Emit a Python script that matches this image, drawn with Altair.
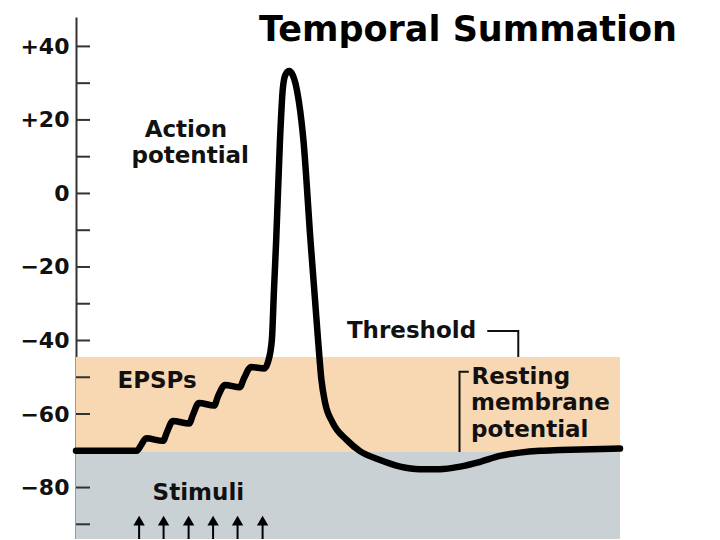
import altair as alt
import pandas as pd

# ---- data ----
# membrane potential trace: time (arbitrary units, 0-100) and voltage (mV)
trace_t = [0, 11.2, 11.9, 12.9, 16.0, 16.7, 17.8, 20.8, 21.5, 22.6, 25.4, 26.1, 27.4,
           30.1, 30.9, 32.2, 34.6, 35.3, 36.0, 36.4, 36.8, 37.5, 38.0, 38.5, 39.2,
           39.8, 40.6, 41.8, 43.1, 44.5, 45.1, 45.8, 47.2, 49.8, 52.2, 55.9, 59.6,
           63.2, 66.9, 70.6, 74.3, 77.9, 81.6, 85.3, 89.0, 100]
trace_v = [-70, -70, -68.6, -66.6, -67.3, -65.0, -61.9, -62.6, -60.2, -57.0, -57.7, -55.2, -52.1,
           -52.7, -50.2, -47.2, -47.6, -45.8, -39.9, -26.0, -12.7, 14.6, 28.2, 32.3, 33.3,
           32.3, 28.2, 14.6, -12.7, -39.9, -50.5, -57.0, -62.4, -67.1, -70.1, -72.5, -74.3,
           -75.0, -75.0, -74.3, -73.0, -71.4, -70.5, -70.0, -69.8, -69.4]

y_ticks_major = [-80, -60, -40, -20, 0, 20, 40]
y_ticks_minor = [-90, -70, -50, -30, -10, 10, 30]

threshold_mv = -44.5
resting_mv = -70.3
y_min, y_max = -94, 48
t_min, t_max = 0, 100

band_low = [resting_mv, y_min]
band_high = [threshold_mv, resting_mv]
band_color = ["#F8D8B2", "#C9D1D5"]

stim_t = [11.6, 16.1, 20.7, 25.2, 29.7, 34.3]
stim_head_v = -89.0

centered_labels = ["Action", "potential", "EPSPs", "Stimuli"]
centered_t = [20.2, 21.0, 14.9, 22.5]
centered_v = [15.3, 8.3, -52.9, -83.4]

left_labels = ["Threshold", "Resting", "membrane", "potential"]
left_t = [49.8, 72.7, 72.6, 72.6]
left_v = [-39.3, -51.8, -59.0, -66.3]

bracket_group = ["thr", "thr", "thr", "rest", "rest", "rest"]
bracket_order = [0, 1, 2, 0, 1, 2]
bracket_t = [75.6, 81.3, 81.3, 72.2, 70.5, 70.5]
bracket_v = [-37.4, -37.4, -44.5, -48.5, -48.5, -70.3]

title_text = "Temporal Summation"

# ---- tables ----
trace = pd.DataFrame({"t": trace_t, "v": trace_v})
bands = pd.DataFrame({"t0": [t_min] * 2, "t1": [t_max] * 2, "lo": band_low, "hi": band_high, "c": band_color})
ticks = pd.DataFrame({"v": y_ticks_major + y_ticks_minor})
stims = pd.DataFrame({"t": stim_t, "lo": [y_min] * len(stim_t), "hi": [stim_head_v] * len(stim_t)})
ctext = pd.DataFrame({"label": centered_labels, "t": centered_t, "v": centered_v})
ltext = pd.DataFrame({"label": left_labels, "t": left_t, "v": left_v})
brackets = pd.DataFrame({"g": bracket_group, "i": bracket_order, "t": bracket_t, "v": bracket_v})

xs = alt.Scale(domain=[t_min, t_max], nice=False, zero=False)
ys = alt.Scale(domain=[y_min, y_max], nice=False, zero=False)
FONT = "DejaVu Sans"

band_layer = alt.Chart(bands).mark_rect().encode(
    x=alt.X("t0:Q", scale=xs, axis=None),
    x2="t1:Q",
    y=alt.Y("lo:Q", scale=ys, axis=alt.Axis(
        values=y_ticks_major, title=None, grid=False, ticks=False, tickSize=0,
        labelPadding=7, labelFont=FONT, labelFontSize=22, labelFontWeight="bold",
        labelColor="#111", domainColor="#333", domainWidth=2,
        labelExpr="datum.value > 0 ? '+' + datum.label : datum.label")),
    y2="hi:Q",
    color=alt.Color("c:N", scale=None),
)

tick_layer = alt.Chart(ticks).mark_rule(color="#333", strokeWidth=2).encode(
    y=alt.Y("v:Q", scale=ys), x=alt.value(0), x2=alt.value(14)
)

trace_layer = alt.Chart(trace).mark_line(
    color="black", strokeWidth=6.5, interpolate="monotone", strokeCap="round", strokeJoin="round"
).encode(x=alt.X("t:Q", scale=xs), y=alt.Y("v:Q", scale=ys))

bracket_layer = alt.Chart(brackets).mark_line(color="#111", strokeWidth=2).encode(
    x=alt.X("t:Q", scale=xs), y=alt.Y("v:Q", scale=ys), detail="g:N", order="i:Q"
)

shaft_layer = alt.Chart(stims).mark_rule(color="black", strokeWidth=2).encode(
    x=alt.X("t:Q", scale=xs), y=alt.Y("lo:Q", scale=ys), y2="hi:Q"
)
head_layer = alt.Chart(stims).mark_point(
    shape="triangle-up", filled=True, size=130, color="black", opacity=1
).encode(x=alt.X("t:Q", scale=xs), y=alt.Y("hi:Q", scale=ys))

ctext_layer = alt.Chart(ctext).mark_text(
    font=FONT, fontSize=23, fontWeight="bold", color="#111", align="center", baseline="alphabetic"
).encode(x=alt.X("t:Q", scale=xs), y=alt.Y("v:Q", scale=ys), text="label:N")

ltext_layer = alt.Chart(ltext).mark_text(
    font=FONT, fontSize=23, fontWeight="bold", color="#111", align="left", baseline="alphabetic"
).encode(x=alt.X("t:Q", scale=xs), y=alt.Y("v:Q", scale=ys), text="label:N")

title_layer = alt.Chart(pd.DataFrame({"label": [title_text]})).mark_text(
    font=FONT, fontSize=35, fontWeight="bold", color="black", align="right", baseline="alphabetic"
).encode(x=alt.value(601), y=alt.value(24), text="label:N")

chart = alt.layer(
    band_layer, tick_layer, trace_layer, bracket_layer, shaft_layer, head_layer,
    ctext_layer, ltext_layer, title_layer
).properties(
    width=544, height=522,
    autosize=alt.AutoSizeParams(type="none"),
    padding={"left": 68, "top": 9, "right": 90, "bottom": 0},
    background="white",
).configure_view(stroke=None)

chart.save("out.html", embed_options={"renderer": "svg", "actions": False})
